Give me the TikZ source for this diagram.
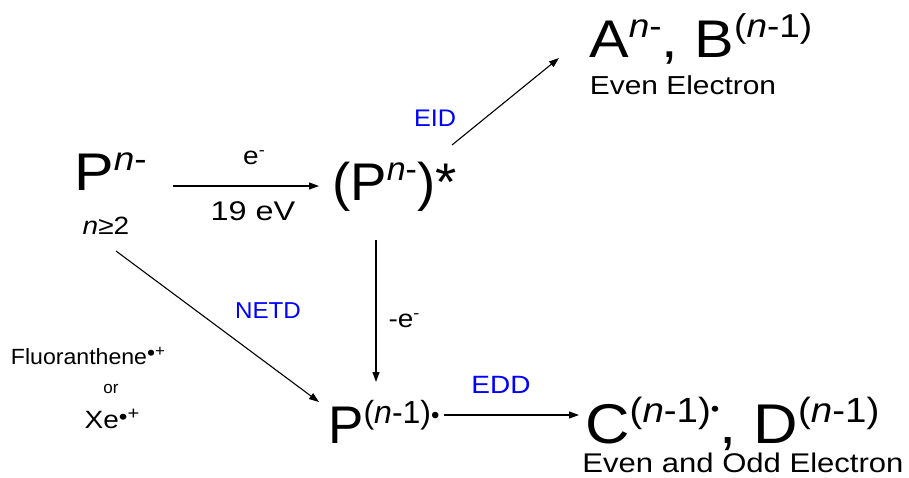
\documentclass[tikz,border=0pt]{standalone}
\usepackage{fontspec}
\setmainfont{Liberation Sans}
\usetikzlibrary{arrows.meta}
\newcommand{\spr}[1]{\raisebox{20pt}{\fontsize{33}{33}\selectfont #1}}
\newcommand{\bul}{\raisebox{4pt}{\fontsize{22}{22}\selectfont •}}
\newcommand{\xst}[2][1.12]{\scalebox{#1}[1]{#2}}
\begin{document}
\begin{tikzpicture}[x=1pt,y=1pt,
  big/.style={inner sep=0pt, anchor=base west, font=\fontsize{53}{53}\selectfont},
  lbl/.style={inner sep=0pt, font=\fontsize{25}{25}\selectfont},
  blu/.style={lbl, text={rgb,255:red,0;green,0;blue,255}},
  arr/.style={line width=1.1pt, -{Triangle[length=10pt,width=7pt]}}]
\useasboundingbox (0,0) rectangle (909,-477);
\node[big] (p1) at (74,-190) {\xst{P\spr{\textit{n}-}}};
\node[lbl] (cond) at (106,-226) {\xst{\textit{n}≥2}};
\node[big] (pstar) at (332,-200) {\xst[1.03]{(P\spr{\textit{n}-})*}};
\node[big] (ab) at (589,-57) {\xst{A\spr{\textit{n}-}, B\spr{(\textit{n}-1)}}};
\node[lbl, font=\fontsize{26}{26}\selectfont] (even1) at (683,-85) {\xst[1.15]{Even Electron}};
\node[big] (prad) at (328,-443) {P\raisebox{20pt}{\fontsize{32}{32}\selectfont (\textit{n}-1)}\raisebox{20pt}{\fontsize{24}{24}\selectfont •}};
\node[big, font=\fontsize{56}{56}\selectfont] (cd) at (585,-443) {\xst[1.1]{C\raisebox{21pt}{\fontsize{35}{35}\selectfont (\textit{n}-1)\raisebox{6pt}{\fontsize{22}{22}\selectfont •}}, D\raisebox{21pt}{\fontsize{35}{35}\selectfont (\textit{n}-1)}}};
\node[lbl, font=\fontsize{27}{27}\selectfont] (even2) at (743,-463) {\xst[1.15]{Even and Odd Electron}};
\node[lbl, font=\fontsize{22}{22}\selectfont] (fl) at (88,-356) {\xst[1.05]{Fluoranthene\bul\raisebox{8pt}{\fontsize{16}{16}\selectfont +}}};
\node[lbl, font=\fontsize{17}{17}\selectfont] (or) at (111,-389) {or};
\node[lbl] (xe) at (112,-419) {\xst{Xe\bul\raisebox{9pt}{\fontsize{18}{18}\selectfont +}}};
\node[lbl] (em) at (254,-158) {\xst{e\raisebox{9pt}{\fontsize{16}{16}\selectfont -}}};
\node[lbl, font=\fontsize{27}{27}\selectfont] (ev) at (253,-211) {\xst[1.2]{19 eV}};
\node[blu, font=\fontsize{24}{24}\selectfont] (eid) at (435,-118) {\xst[1.05]{EID}};
\node[blu, font=\fontsize{23}{23}\selectfont] (netd) at (268,-311) {\xst[1.05]{NETD}};
\node[lbl] (me) at (404,-321) {\xst{-e\raisebox{9pt}{\fontsize{16}{16}\selectfont -}}};
\node[blu] (edd) at (501,-385) {\xst{EDD}};
\coordinate (a1s) at (173,-186);
\coordinate (a1e) at (319,-186);
\coordinate (a2s) at (452,-145);
\coordinate (a2e) at (559,-58);
\coordinate (a3s) at (376,-240);
\coordinate (a3e) at (376,-382);
\coordinate (a4s) at (116,-251);
\coordinate (a4e) at (319,-402);
\coordinate (a5s) at (444,-415);
\coordinate (a5e) at (579,-415);
\draw[arr] (a1s) -- (a1e);
\draw[arr] (a2s) -- (a2e);
\draw[arr] (a3s) -- (a3e);
\draw[arr] (a4s) -- (a4e);
\draw[arr] (a5s) -- (a5e);
\end{tikzpicture}
\end{document}
